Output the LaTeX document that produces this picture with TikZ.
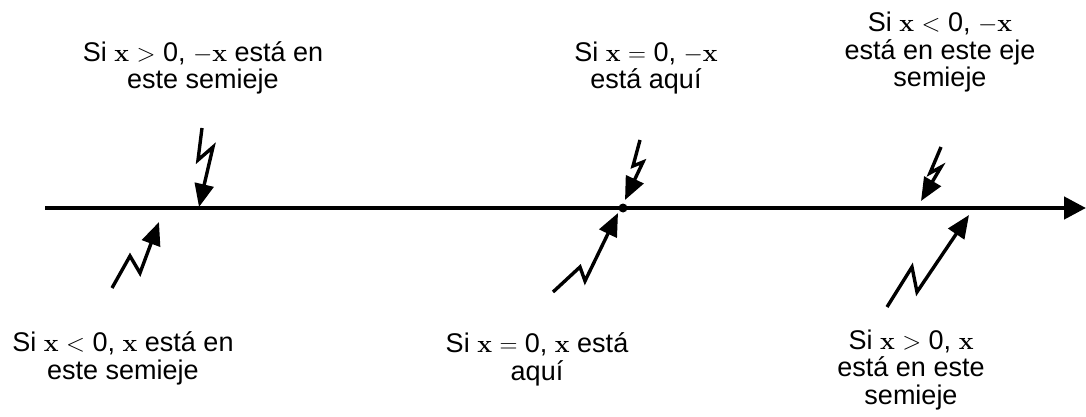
\documentclass[tikz,border=0pt]{standalone}
\usepackage[no-math]{fontspec}
\setmainfont{Liberation Sans}
\usetikzlibrary{arrows.meta}
\tikzset{
  lbl/.style={align=center, font=\fontsize{27}{27.5}\selectfont, inner sep=0pt, anchor=base},
  zz/.style={line width=3.4pt, -{Triangle[length=23pt,width=19pt]}, line join=miter},
  axisline/.style={line width=4.5pt, -{Triangle[length=22pt,width=22pt]}}
}
\newcommand{\vx}{$\mathbf{x}$}
\begin{document}
\begin{tikzpicture}[x=1pt,y=-1pt]
\useasboundingbox (0,0) rectangle (1086,417);
% axis
\coordinate (a0) at (45,208);
\coordinate (a1) at (1086,208);
\draw[axisline] (a0) -- (a1);
\fill (623,208) circle (4.5pt);
% labels top (anchor = baseline of the last line)
\node[lbl] (t1) at (203,89) {Si \vx\ $>$ 0, $-$\vx\ está en\\este semieje};
\node[lbl] (t2) at (646,89) {Si \vx\ $=$ 0, $-$\vx\\está aquí};
\node[lbl] (t3) at (940,87) {Si \vx\ $<$ 0, $-$\vx\\está en este eje\\semieje};
% labels bottom
\node[lbl] (b1) at (123,379) {Si \vx\ $<$ 0, \vx\ está en\\este semieje};
\node[lbl] (b2) at (537,380) {Si \vx\ $=$ 0, \vx\ está\\aquí};
\node[lbl] (b3) at (911,404) {Si \vx\ $>$ 0, \vx\\está en este\\semieje};
% top arrows
\coordinate (s1) at (202,128); \coordinate (e1) at (199,207);
\draw[zz] (s1) -- (198,160) -- (213,147) -- (e1);
\coordinate (s2) at (640,140); \coordinate (e2) at (625,200);
\draw[zz] (s2) -- (633,166) -- (643,162) -- (e2);
\coordinate (s3) at (941,147); \coordinate (e3) at (921,201);
\draw[zz] (s3) -- (930,173) -- (941,167) -- (e3);
% bottom arrows
\coordinate (u1) at (112,288); \coordinate (v1) at (159,222);
\draw[zz] (u1) -- (130,256) -- (140,273) -- (v1);
\coordinate (u2) at (553,292); \coordinate (v2) at (618,213);
\draw[zz] (u2) -- (580,267) -- (585,281) -- (v2);
\coordinate (u3) at (887,307); \coordinate (v3) at (969,215);
\draw[zz] (u3) -- (912,267) -- (917,292) -- (v3);
\end{tikzpicture}
\end{document}
